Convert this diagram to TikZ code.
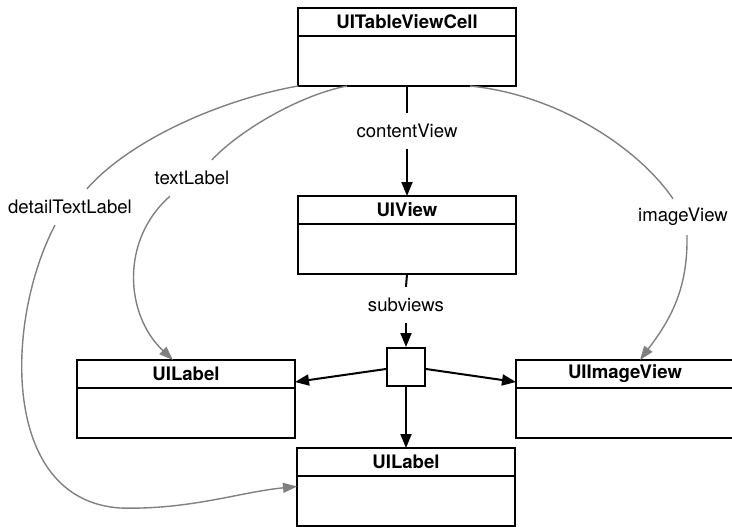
\documentclass[tikz,border=0pt]{standalone}
\usepackage{fontspec}
\setmainfont{TeX Gyre Heros}
\usepackage{tikz}
\usetikzlibrary{arrows.meta,positioning}
\definecolor{lnG}{HTML}{808080}

\begin{document}
\begin{tikzpicture}[x=1pt,y=-1pt,
  every node/.style={font=\fontsize{18.6}{22}\selectfont},
  ttl/.style={draw,line width=2pt,minimum width=218pt,minimum height=28pt,inner sep=0pt,outer sep=0pt,font=\fontsize{18.6}{22}\selectfont\bfseries},
  body/.style={draw,line width=2pt,minimum width=218pt,minimum height=50pt,inner sep=0pt,outer sep=0pt},
  lbl/.style={inner sep=0pt,minimum height=36pt},
  ln/.style={line width=2pt},
  blk/.style={line width=2pt,-{Triangle[length=14pt,width=11pt]}},
  gry/.style={lnG,line width=1.4pt,-{Triangle[length=14pt,width=10pt]}}]
  \clip (0,0) rectangle (732,527);
  % class boxes: title part and body part
  \foreach \n/\x/\y/\t in {cell/407/22/UITableViewCell,view/407/210/UIView,lbl/186/374/UILabel,img/625/374/UIImageView,dtl/406/462/UILabel}{
    \node[ttl] (\n-t) at (\x,\y) {\t};
    \node[body,below=0pt of \n-t] (\n) {};
  }
  \node[draw,line width=2pt,minimum size=38pt,inner sep=0pt] (sq) at (406,367) {};

  \node[lbl] (cv) at (407,131) {contentView};
  \node[lbl] (sv) at (406,305) {subviews};
  \node[lbl] (tl) at (192,178) {textLabel};
  \node[lbl] (dl) at (70,207) {detailTextLabel};
  \node[lbl] (iv) at (683,217) {imageView};

  % black connectors
  \draw[ln] (cell.south) -- (cv.north);
  \draw[blk] (cv.south) -- (view-t.north);
  \draw[ln] (view.south) -- (sv.north);
  \draw[blk] (sv.south) -- (sq.north);
  \draw[blk] ([yshift=-2pt]sq.west) -- ([yshift=-8pt]lbl-t.east);
  \draw[blk] ([yshift=-2pt]sq.east) -- ([yshift=-8pt]img-t.west);
  \draw[blk] (sq.south) -- (dtl-t.north);

  % gray connectors
  \draw[lnG,line width=1.4pt] ([xshift=-60pt]cell.south) .. controls (300,95) and (240,130) .. ([xshift=20pt]tl.north);
  \draw[gry] ([xshift=-22pt]tl.south) .. controls (120,240) and (125,315) .. ([xshift=-13pt]lbl-t.north);
  \draw[lnG,line width=1.4pt] (cell.south west) .. controls (220,100) and (130,140) .. ([xshift=17pt]dl.north);
  \draw[gry] ([xshift=-15pt]dl.south) .. controls (5,320) and (0,500) .. (120,508) .. controls (190,510) and (240,492) .. ([yshift=14.5pt]dtl.west);
  \draw[lnG,line width=1.4pt] ([xshift=63pt]cell.south) .. controls (560,95) and (640,150) .. ([xshift=-10pt]iv.north);
  \draw[gry] ([xshift=4pt]iv.south) .. controls (688,290) and (670,320) .. ([xshift=15pt]img-t.north);
\end{tikzpicture}
\end{document}
